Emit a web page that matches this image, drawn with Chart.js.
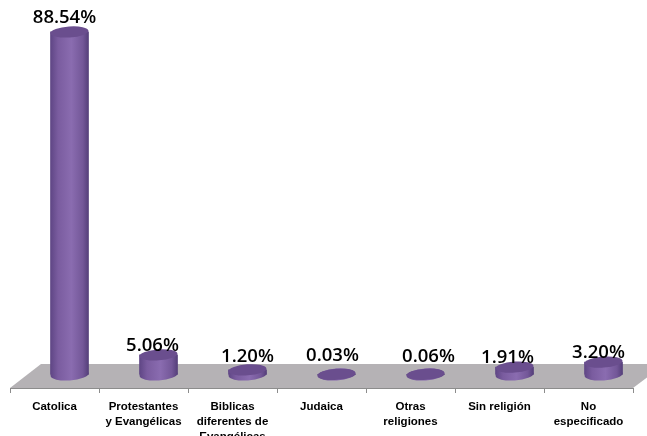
<!DOCTYPE html>
<html>
<head>
<meta charset="utf-8">
<style>
html, body { margin: 0; padding: 0; background: #ffffff; }
canvas { display: block; }
</style>
<script src="https://cdn.jsdelivr.net/npm/chart.js@4/dist/chart.umd.min.js"></script>
</head>
<body>
<canvas id="chart" width="647" height="436"></canvas>
<script>
const categories = [
    "Catolica",
    ["Protestantes", "y Evangélicas"],
    ["Biblicas", "diferentes de", "Evangélicas"],
    "Judaica",
    ["Otras", "religiones"],
    "Sin religión",
    ["No", "especificado"]
];
const values = [88.54, 5.06, 1.20, 0.03, 0.06, 1.91, 3.20];
const valueLabels = ["88.54%", "5.06%", "1.20%", "0.03%", "0.06%", "1.91%", "3.20%"];

// the fake 3d look: bars stand further back on the floor than their tick slot
const depthShift = 15;
const barWidth = 38;
const tilt = -0.07;
const labelShiftX = [-5, -6, 0, -4, 3, -7, -5];
const labelShiftY = [-2, 3, -1, -6, -5, 3, 3];

function sideGradient(ctx, x) {
    let g = ctx.createLinearGradient(x - barWidth / 2, 0, x + barWidth / 2, 0);
    g.addColorStop(0, "#5f4685");
    g.addColorStop(0.2, "#7a5c9f");
    g.addColorStop(0.55, "#8a6cb0");
    g.addColorStop(0.85, "#735798");
    g.addColorStop(1, "#553f7a");
    return g;
}

function ellipse(ctx, x, y, ry, fill) {
    ctx.beginPath();
    ctx.ellipse(x, y, barWidth / 2, ry, tilt, 0, Math.PI * 2);
    ctx.fillStyle = fill;
    ctx.fill();
}

const floorPlugin = {
    id: "floor",
    beforeDatasetsDraw(chart) {
        let ctx = chart.ctx;
        let a = chart.chartArea;
        ctx.save();
        ctx.beginPath();
        ctx.moveTo(a.left, a.bottom);
        ctx.lineTo(a.left + 31, a.bottom - 24);
        ctx.lineTo(a.right + 16, a.bottom - 24);
        ctx.lineTo(a.right + 16, a.bottom - 12);
        ctx.lineTo(a.right, a.bottom);
        ctx.closePath();
        ctx.fillStyle = "#b5b2b5";
        ctx.fill();
        ctx.restore();
    }
};

const cylinderPlugin = {
    id: "cylinder",
    beforeDatasetDraw(chart) {
        let ctx = chart.ctx;
        ctx.save();
        ctx.translate(depthShift, 0);
        let meta = chart.getDatasetMeta(0);
        let base = chart.scales.y.getPixelForValue(0);
        meta.data.forEach(function (bar) {
            ellipse(ctx, bar.x, base, 6, sideGradient(ctx, bar.x));
        });
    },
    afterDatasetDraw(chart) {
        let ctx = chart.ctx;
        let meta = chart.getDatasetMeta(0);
        meta.data.forEach(function (bar) {
            ellipse(ctx, bar.x, bar.y, 5.5, "#6a4e8e");
        });
        ctx.restore();

        ctx.save();
        ctx.fillStyle = "#000000";
        ctx.font = "600 18.5px 'Open Sans'";
        ctx.textAlign = "center";
        ctx.textBaseline = "alphabetic";
        meta.data.forEach(function (bar, i) {
            let x = bar.x + depthShift + labelShiftX[i];
            ctx.fillText(valueLabels[i], x, bar.y - 7 + labelShiftY[i]);
        });
        ctx.restore();
    }
};

new Chart(document.getElementById("chart"), {
    type: "bar",
    data: {
        labels: categories,
        datasets: [{
            data: values,
            barThickness: barWidth,
            borderWidth: 0,
            backgroundColor: function (c) {
                let x = c.chart.scales.x ? c.chart.scales.x.getPixelForValue(c.dataIndex) : NaN;
                if (!isFinite(x)) {
                    return "#7a5c9f";
                }
                return sideGradient(c.chart.ctx, x);
            }
        }]
    },
    options: {
        responsive: false,
        animation: false,
        layout: { padding: { left: 10, right: 14, top: 0, bottom: 0 } },
        plugins: {
            legend: { display: false },
            tooltip: { enabled: false }
        },
        scales: {
            x: {
                afterFit: function (scale) { scale.height = 48; },
                border: { color: "#8c8c8c", width: 1 },
                grid: {
                    drawOnChartArea: false,
                    color: "#8c8c8c",
                    tickLength: 5
                },
                ticks: {
                    autoSkip: false,
                    maxRotation: 0,
                    minRotation: 0,
                    padding: 7,
                    color: "#000000",
                    font: { family: "'Liberation Sans'", size: 11.5, weight: "bold", lineHeight: 1.27 }
                }
            },
            y: {
                display: false,
                min: -3.5,
                max: 96.8
            }
        }
    },
    plugins: [floorPlugin, cylinderPlugin]
});
</script>
</body>
</html>
